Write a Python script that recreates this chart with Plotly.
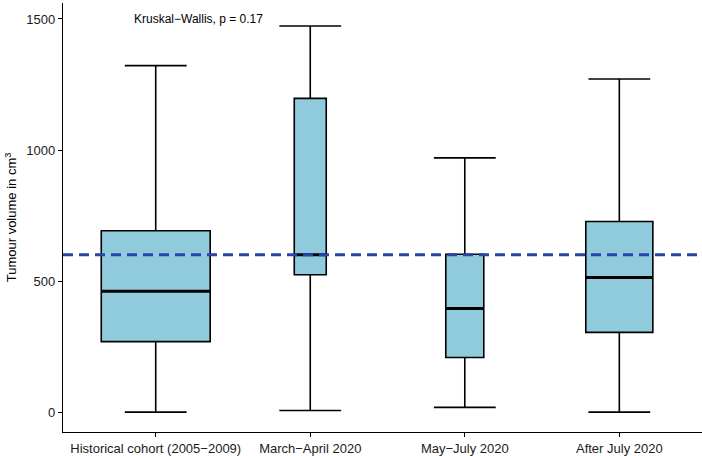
import plotly.graph_objects as go

# Tumour volume (cm^3) summary statistics per cohort
groups = ["Historical cohort (2005\u22122009)", "March\u2212April 2020", "May\u2212July 2020", "After July 2020"]
lower_whisker = [0, 6, 18, 0]
q1 = [269, 524, 208, 304]
median = [461, 600, 395, 514]
q3 = [692, 1197, 602, 727]
upper_whisker = [1322, 1473, 970, 1271]
threshold = 600
test_label = "Kruskal\u2212Wallis, p = 0.17"

# styling
box_widths = [0.705, 0.207, 0.246, 0.434]   # variable-width boxes
cap_width = 0.40
fill_col = "#8fcadd"
font_fam = "Liberation Sans, Arial, sans-serif"

positions = list(range(1, len(groups) + 1))

fig = go.Figure()

for i, x in enumerate(positions):
    fig.add_trace(go.Box(
        x=[x], q1=[q1[i]], median=[median[i]], q3=[q3[i]],
        lowerfence=[lower_whisker[i]], upperfence=[upper_whisker[i]],
        width=box_widths[i], whiskerwidth=0,
        fillcolor=fill_col, line=dict(color="black", width=1.6),
        boxpoints=False, showlegend=False, hoverinfo="skip",
    ))
    # whisker caps
    for yv in (lower_whisker[i], upper_whisker[i]):
        fig.add_trace(go.Scatter(
            x=[x - cap_width / 2, x + cap_width / 2], y=[yv, yv],
            mode="lines", line=dict(color="black", width=1.6),
            showlegend=False, hoverinfo="skip",
        ))
    # bold median bar
    fig.add_trace(go.Scatter(
        x=[x - box_widths[i] / 2, x + box_widths[i] / 2], y=[median[i], median[i]],
        mode="lines", line=dict(color="black", width=3),
        showlegend=False, hoverinfo="skip",
    ))

# reference threshold
fig.add_shape(type="line", xref="paper", yref="y", x0=0, x1=1,
              y0=threshold, y1=threshold, layer="above",
              line=dict(color="#2a43a6", width=3, dash="10px,6px"))

fig.add_annotation(x=0.845, y=1500, xref="x", yref="y", text=test_label,
                   showarrow=False, xanchor="left", yanchor="middle",
                   font=dict(family=font_fam, size=12, color="black"))

fig.update_layout(
    width=702, height=456,
    margin=dict(l=63, r=0, t=3, b=21),
    plot_bgcolor="white", paper_bgcolor="white",
    font=dict(family=font_fam, size=13, color="#1a1a1a"),
)
fig.update_xaxes(
    range=[0.4, 4.535], tickvals=positions, ticktext=groups,
    showline=True, linecolor="black", linewidth=1.3, mirror=False,
    ticks="outside", ticklen=4, tickcolor="black", showgrid=False, zeroline=False,
    tickfont=dict(size=13, color="#1a1a1a"),
)
fig.update_yaxes(
    range=[-76, 1561], tickvals=[0, 500, 1000, 1500],
    showline=True, linecolor="black", linewidth=1.3,
    ticks="outside", ticklen=4, tickcolor="black", showgrid=False, zeroline=False,
    tickfont=dict(size=13, color="#1a1a1a"),
    title=dict(text="Tumour volume in cm<sup>3</sup>", font=dict(size=13, color="black"), standoff=6),
)

fig.write_html("out.html")
